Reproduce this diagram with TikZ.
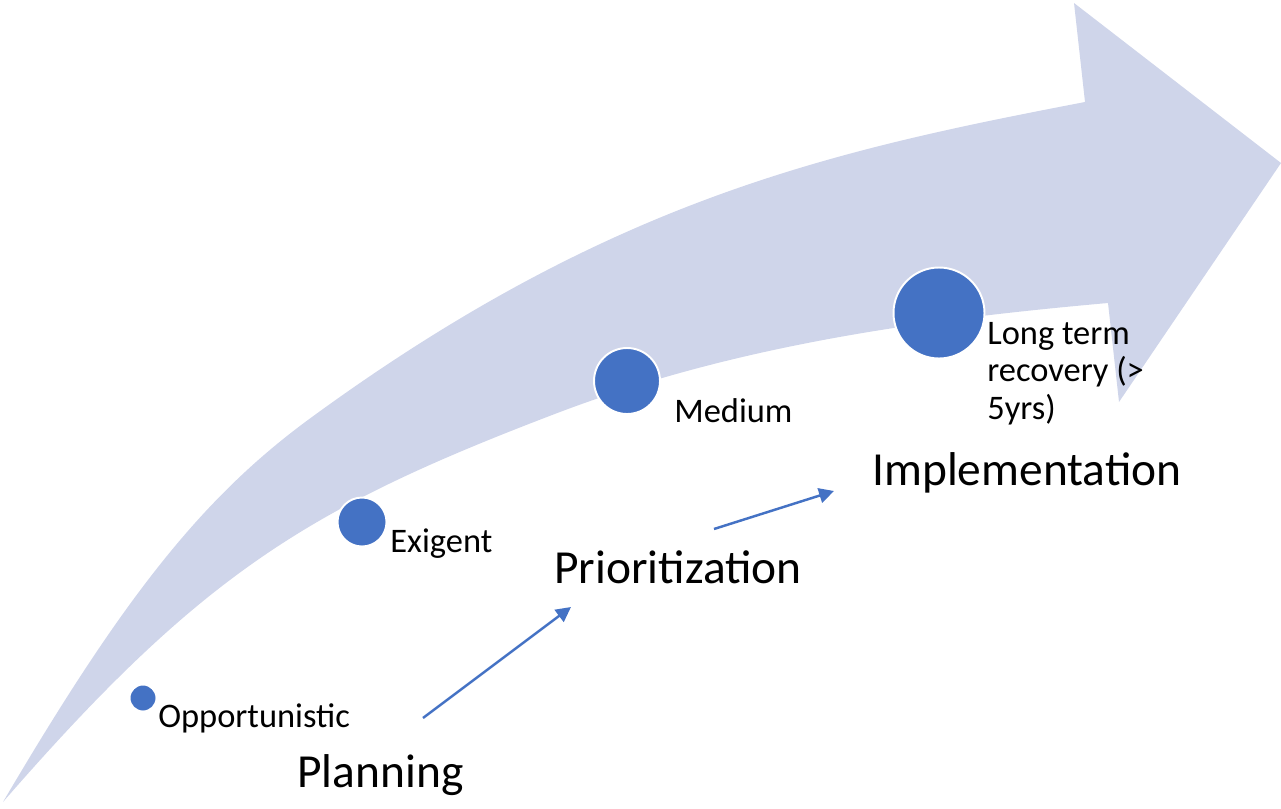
\documentclass[tikz,border=0pt]{standalone}
\usepackage{fontspec}
\setmainfont{Carlito}
\usepackage{tikz}
\usetikzlibrary{arrows.meta}
\definecolor{colordot}{HTML}{4472C4}
\definecolor{colorband}{HTML}{CFD5EA}
\tikzset{ms/.style={circle, fill=colordot, draw=white, line width=1.1pt, inner sep=0pt}}
\tikzset{mslabel/.style={anchor=base west, inner sep=0pt, font=\fontsize{19.6}{21.3}\selectfont}}
\tikzset{phase/.style={anchor=base west, inner sep=0pt, font=\fontsize{27}{32}\selectfont}}
\tikzset{
  edgeflow/.style={colordot, line width=1.4pt, -{Triangle[length=8.5pt, width=8.5pt]}}
}

\begin{document}
\begin{tikzpicture}[x=0.02cm, y=-0.02cm]
\useasboundingbox (0,0) rectangle (1281,808);

% big curved arrow
\fill[colorband] (3,802)
.. controls (123,598) and (202,497) .. (312,417)
.. controls (612,198) and (835,150) .. (1085,102)
-- (1074,3) -- (1281,163) -- (1119,402) -- (1108,303)
.. controls (928,319) and (740,344) .. (560,412)
.. controls (310,507) and (203,572) .. (3,802)
-- cycle;

\node[ms, minimum size=0.54cm] (opp) at (143,698) {};
\node[ms, minimum size=0.98cm] (exi) at (362,522) {};
\node[ms, minimum size=1.32cm] (med) at (627,381) {};
\node[ms, minimum size=1.82cm] (lng) at (939,313) {};

\node[mslabel] (opptxt) at (158,727) {Opportunistic};
\node[mslabel] (exitxt) at (390,552) {Exigent};
\node[mslabel] (medtxt) at (674,422) {Medium};
\node[mslabel, align=left] (lngtxt) at (987,419)
{Long term\\recovery (>\\5yrs)};

\node[phase] (plan) at (297,787) {Planning};
\node[phase] (prio) at (554,583) {Prioritization};
\node[phase] (impl) at (872,485) {Implementation};

\coordinate (up1) at (423,718);
\coordinate (up1end) at (571,607);
\coordinate (up2) at (714,529);
\coordinate (up2end) at (834,491);

\draw[edgeflow] (up1) -- (up1end);
\draw[edgeflow] (up2) -- (up2end);
\end{tikzpicture}
\end{document}
